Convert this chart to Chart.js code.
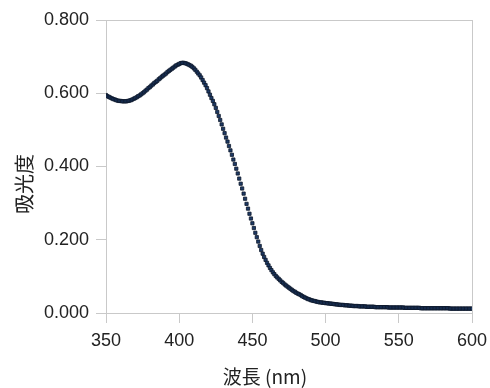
<!DOCTYPE html>
<html lang="ja">
<head>
  <meta charset="UTF-8" />
  <title>吸光度スペクトル</title>
  <script src="https://cdn.jsdelivr.net/npm/chart.js"></script>
  <style>
    body {
      margin: 0;
      padding: 0;
      background: #ffffff;
    }

    .wrap {
      position: relative;
      width: 490px;
      height: 388px;
    }

    .axis-title {
      position: absolute;
      font-family: 'Noto Sans CJK JP', 'Liberation Sans', sans-serif;
      color: #222;
      white-space: nowrap;
      line-height: 1;
    }

    #xTitle {
      left: 265px;
      top: 375px;
      font-size: 19px;
      transform: translate(-50%, -50%);
    }

    #yTitle {
      left: 24px;
      top: 184px;
      font-size: 20px;
      transform: translate(-50%, -50%) rotate(-90deg);
    }
  </style>
</head>
<body>
  <div class="wrap">
    <canvas id="spectrumChart"></canvas>
    <div class="axis-title" id="xTitle">波長 (nm)</div>
    <div class="axis-title" id="yTitle">吸光度</div>
  </div>

  <script>
  // wavelength (nm), one reading per nm
  const wavelengths = [
    350, 351, 352, 353, 354, 355, 356, 357, 358, 359, 360, 361, 362,
    363, 364, 365, 366, 367, 368, 369, 370, 371, 372, 373, 374, 375,
    376, 377, 378, 379, 380, 381, 382, 383, 384, 385, 386, 387, 388, 389, 390,
    391, 392, 393, 394, 395, 396, 397, 398, 399, 400, 401, 402,
    403, 404, 405, 406, 407, 408, 409, 410,
    411, 412, 413, 414, 415, 416, 417, 418, 419, 420,
    421, 422, 423, 424, 425, 426, 427, 428, 429, 430,
    431, 432, 433, 434, 435, 436, 437, 438, 439, 440,
    441, 442, 443, 444, 445, 446, 447, 448, 449, 450,
    451, 452, 453, 454, 455, 456, 457, 458, 459, 460,
    461, 462, 463, 464, 465, 466, 467, 468, 469, 470,
    471, 472, 473, 474, 475, 476, 477, 478, 479, 480,
    481, 482, 483, 484, 485, 486, 487, 488, 489, 490,
    491, 492, 493, 494, 495, 496, 497, 498, 499, 500,
    501, 502, 503, 504, 505, 506, 507, 508, 509, 510,
    511, 512, 513, 514, 515, 516, 517, 518, 519, 520,
    521, 522, 523, 524, 525, 526, 527, 528, 529, 530,
    531, 532, 533, 534, 535, 536, 537, 538, 539, 540,
    541, 542, 543, 544, 545, 546, 547, 548, 549, 550,
    551, 552, 553, 554, 555, 556, 557, 558, 559, 560,
    561, 562, 563, 564, 565, 566, 567, 568, 569, 570,
    571, 572, 573, 574, 575, 576, 577, 578, 579, 580,
    581, 582, 583, 584, 585, 586, 587, 588, 589, 590,
    591, 592, 593, 594, 595, 596, 597, 598, 599, 600
  ];

  // absorbance
  const absorbance = [
    0.595, 0.592, 0.590, 0.588, 0.586, 0.584, 0.583, 0.581, 0.580, 0.579, 0.579, 0.578, 0.578,
    0.578, 0.578, 0.579, 0.580, 0.581, 0.583, 0.585, 0.587, 0.589, 0.592, 0.594, 0.597, 0.600,
    0.603, 0.607, 0.610, 0.614, 0.617, 0.621, 0.624, 0.628, 0.631, 0.634, 0.638, 0.641, 0.645, 0.648, 0.651,
    0.654, 0.658, 0.661, 0.664, 0.667, 0.670, 0.673, 0.676, 0.678, 0.680, 0.682, 0.683,
    0.683, 0.682, 0.681, 0.679, 0.677, 0.675, 0.672, 0.668,
    0.664, 0.659, 0.654, 0.649, 0.643, 0.636, 0.629, 0.622, 0.614, 0.605,
    0.596, 0.587, 0.579, 0.570, 0.560, 0.549, 0.538, 0.527, 0.515, 0.503,
    0.491, 0.479, 0.468, 0.456, 0.444, 0.432, 0.419, 0.407, 0.394, 0.381,
    0.367, 0.353, 0.340, 0.326, 0.312, 0.298, 0.285, 0.271, 0.258, 0.245,
    0.232, 0.219, 0.207, 0.195, 0.183, 0.172, 0.162, 0.153, 0.145, 0.137,
    0.130, 0.123, 0.117, 0.111, 0.106, 0.101, 0.097, 0.093, 0.089, 0.085,
    0.082, 0.078, 0.075, 0.072, 0.069, 0.066, 0.063, 0.060, 0.058, 0.055,
    0.053, 0.051, 0.049, 0.046, 0.044, 0.042, 0.040, 0.038, 0.037, 0.035,
    0.034, 0.033, 0.032, 0.031, 0.030, 0.029, 0.029, 0.028, 0.028, 0.027,
    0.027, 0.026, 0.026, 0.025, 0.025, 0.024, 0.024, 0.023, 0.023, 0.022,
    0.022, 0.022, 0.021, 0.021, 0.021, 0.020, 0.020, 0.020, 0.019, 0.019,
    0.019, 0.019, 0.018, 0.018, 0.018, 0.018, 0.018, 0.017, 0.017, 0.017,
    0.017, 0.017, 0.017, 0.016, 0.016, 0.016, 0.016, 0.016, 0.016, 0.016,
    0.016, 0.016, 0.015, 0.015, 0.015, 0.015, 0.015, 0.015, 0.015, 0.015,
    0.015, 0.015, 0.015, 0.014, 0.014, 0.014, 0.014, 0.014, 0.014, 0.014,
    0.014, 0.014, 0.014, 0.014, 0.013, 0.013, 0.013, 0.013, 0.013, 0.013,
    0.013, 0.013, 0.013, 0.013, 0.013, 0.013, 0.013, 0.013, 0.013, 0.013,
    0.013, 0.013, 0.013, 0.013, 0.012, 0.012, 0.012, 0.012, 0.012, 0.012,
    0.012, 0.012, 0.012, 0.012, 0.012, 0.012, 0.012, 0.012, 0.012, 0.012
  ];

  const xTicks = [350, 400, 450, 500, 550, 600];
  const yTicks = [0, 0.2, 0.4, 0.6, 0.8];

  const frameColor = '#c9c9c9';
  const tickFont = { family: "'Liberation Sans', Arial, sans-serif", size: 18 };

  // light grey box round the plot area
  const framePlugin = {
    id: 'frame',
    beforeDatasetsDraw(chart) {
      const { ctx, chartArea: a } = chart;
      ctx.save();
      ctx.strokeStyle = frameColor;
      ctx.lineWidth = 1;
      ctx.strokeRect(a.left + 0.5, a.top + 0.5, a.right - a.left, a.bottom - a.top);
      ctx.restore();
    }
  };

  new Chart(document.getElementById('spectrumChart'), {
    type: 'scatter',
    data: {
      datasets: [{
        data: wavelengths.map((nm, i) => ({ x: nm, y: absorbance[i] })),
        pointStyle: 'rect',
        pointRadius: 2.3,
        backgroundColor: '#1d3a66',
        borderColor: '#0c1628',
        borderWidth: 0.8,
        showLine: false
      }]
    },
    options: {
      responsive: true,
      maintainAspectRatio: false,
      animation: false,
      layout: { padding: { left: 0, top: 20, right: 18, bottom: 0 } },
      plugins: {
        legend: { display: false },
        tooltip: { enabled: false }
      },
      scales: {
        x: {
          type: 'linear',
          min: 350,
          max: 600,
          afterBuildTicks: s => { s.ticks = xTicks.map(v => ({ value: v })); },
          afterFit: s => { s.height = 75; s.paddingLeft = 0; s.paddingRight = 0; },
          ticks: { color: '#222', font: tickFont, padding: 7, maxRotation: 0 },
          grid: { drawOnChartArea: false, color: frameColor, tickLength: 10 },
          border: { color: frameColor }
        },
        y: {
          min: 0,
          max: 0.8,
          afterBuildTicks: s => { s.ticks = yTicks.map(v => ({ value: v })); },
          afterFit: s => { s.width = 106; s.paddingTop = 0; s.paddingBottom = 0; },
          ticks: { color: '#222', font: tickFont, padding: 7, callback: v => v.toFixed(3) },
          grid: { drawOnChartArea: false, color: frameColor, tickLength: 10 },
          border: { color: frameColor }
        }
      }
    },
    plugins: [framePlugin]
  });
  </script>
</body>
</html>
